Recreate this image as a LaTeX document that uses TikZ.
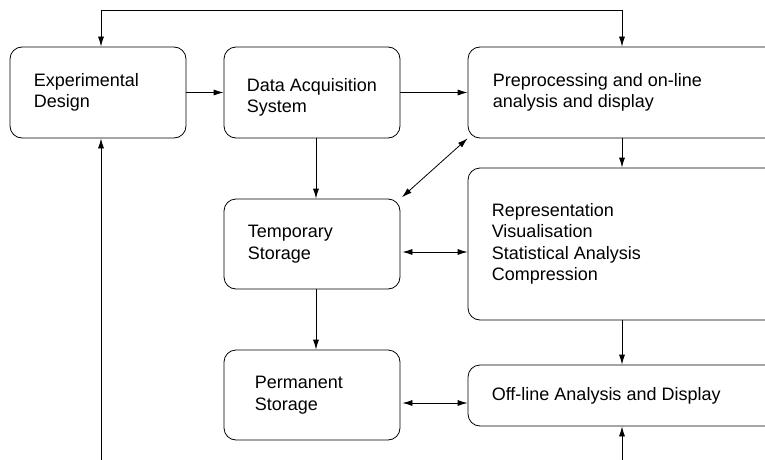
\documentclass[tikz,border=0pt]{standalone}
\usepackage{fontspec}
\setmainfont{Liberation Sans}
\usetikzlibrary{arrows.meta}

\begin{document}
\begin{tikzpicture}[x=1pt,y=-1pt,
	box/.style={draw, rounded corners=12pt, line width=0.8pt},
	lbl/.style={anchor=west, align=left, inner sep=0pt, font=\fontsize{18}{21.5}\selectfont},
	arr/.style={-{Latex[length=10pt,width=6pt]}, line width=0.8pt},
	dbl/.style={{Latex[length=10pt,width=6pt]}-{Latex[length=10pt,width=6pt]}, line width=0.8pt}]
		%%%%% START %%%%%
		\useasboundingbox (0,0) rectangle (765,460);
		\clip (0,0) rectangle (765,460);
		
		\node[box, minimum width=176pt, minimum height=91pt] (exp) at (98,92.5) {};
		\node[lbl] (expT) at ([xshift=24pt]exp.west) {Experimental\\Design};
		
		\node[box, minimum width=176pt, minimum height=91pt] (das) at (312,92.5) {};
		\node[lbl] (dasT) at ([xshift=23pt,yshift=-5pt]das.west) {Data Acquisition\\System};
		
		\node[box, minimum width=332pt, minimum height=91pt] (pre) at (634,92.5) {};
		\node[lbl] (preT) at ([xshift=25pt]pre.west) {Preprocessing and on-line\\analysis and display};
		
		\node[box, minimum width=176pt, minimum height=90pt] (tmp) at (312,244) {};
		\node[lbl] (tmpT) at ([xshift=24pt]tmp.west) {Temporary\\Storage};
		
		\node[box, minimum width=332pt, minimum height=152pt] (rep) at (634,244) {};
		\node[lbl] (repT) at ([xshift=24pt]rep.west) {Representation\\Visualisation\\Statistical Analysis\\Compression};
		
		\node[box, minimum width=176pt, minimum height=90pt] (prm) at (312,395) {};
		\node[lbl] (prmT) at ([xshift=31pt]prm.west) {Permanent\\Storage};
		
		\node[box, minimum width=332pt, minimum height=61pt] (off) at (634,395.5) {};
		\node[lbl] (offT) at ([xshift=24pt]off.west) {Off-line Analysis and Display};
		
		\coordinate (tl) at (101,10);
		\coordinate (tr) at (622,10);
		\coordinate (bl) at (101,460);
		\coordinate (br) at (622,460);
		\coordinate (vx) at (316,0);
		
		\draw[dbl] (tl |- exp.north) -- (tl) -- (tr) -- (tr |- pre.north);
		\draw[arr] (bl) -- (bl |- exp.south);
		\draw[arr] (exp) -- (das);
		\draw[arr] (das.east) -- (das.east -| pre.west);
		\draw[arr] (tr |- pre.south) -- (tr |- rep.north);
		\draw[arr] (tr |- rep.south) -- (tr |- off.north);
		\draw[arr] (br) -- (br |- off.south);
		\draw[arr] (vx |- das.south) -- (vx |- tmp.north);
		\draw[arr] (vx |- tmp.south) -- (vx |- prm.north);
		\draw[dbl, shorten <=2pt] (tmp.north east) -- (pre.south west);
		\draw[dbl, shorten <=2pt] ([yshift=-8pt]tmp.east) -- ([yshift=-8pt]tmp.east -| rep.west);
		\draw[dbl, shorten <=2pt] ([yshift=-8pt]prm.east) -- ([yshift=-8pt]prm.east -| off.west);
		%%%%% END %%%%%
\end{tikzpicture}
\end{document}
